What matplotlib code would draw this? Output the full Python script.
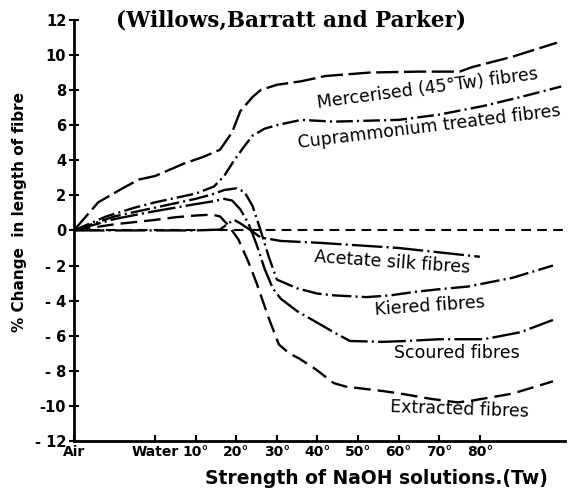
import matplotlib
matplotlib.use("Agg")
import matplotlib.pyplot as plt

plt.rcParams['lines.scale_dashes'] = False

# x in degrees Twaddell, Water = 0, Air drawn at -20
merc_x = [-20, -14, -8, -4, 0, 7, 12, 16, 19, 21, 24, 26, 30, 36, 42, 53, 65, 75, 78, 88, 99]
merc_y = [0, 1.6, 2.4, 2.9, 3.1, 3.8, 4.2, 4.6, 5.6, 6.8, 7.6, 8.0, 8.3, 8.5, 8.8, 9.0, 9.05, 9.05, 9.3, 9.9, 10.7]

cupra_x = [-20, -12, -5, 0, 5, 10, 14.5, 17, 19.5, 22, 24, 27, 30, 36, 44, 60, 70, 81, 90, 100]
cupra_y = [0, 0.8, 1.3, 1.6, 1.85, 2.1, 2.5, 3.1, 4.0, 4.8, 5.4, 5.8, 6.0, 6.3, 6.2, 6.3, 6.6, 7.1, 7.6, 8.2]

acet_x = [-20, 0, 10, 16, 18, 19.5, 21, 23, 26, 31, 40, 50, 60, 70, 80]
acet_y = [0, 0, 0, 0.05, 0.4, 0.6, 0.4, 0.1, -0.4, -0.6, -0.7, -0.85, -1.0, -1.25, -1.5]

kier_x = [-20, -10, 0, 5, 10, 14, 17, 20, 22, 24, 26, 28, 30, 35, 40, 44, 52, 58, 64, 70, 77, 88, 98]
kier_y = [0, 0.8, 1.3, 1.55, 1.8, 2.05, 2.3, 2.4, 2.2, 1.4, 0.0, -1.5, -2.8, -3.3, -3.6, -3.7, -3.8, -3.7, -3.5, -3.35, -3.2, -2.7, -2.0]

scour_x = [-20, -10, 0, 5, 10, 14, 17, 19, 21, 23, 25, 27, 29, 31, 35, 39.5, 44, 48, 56, 62, 70, 81, 90, 98]
scour_y = [0, 0.65, 1.1, 1.3, 1.5, 1.65, 1.8, 1.7, 1.2, 0.4, -0.8, -2.2, -3.3, -3.9, -4.6, -5.2, -5.8, -6.3, -6.35, -6.3, -6.2, -6.2, -5.8, -5.1]

extr_x = [-20, -10, 0, 5, 10, 14, 16, 18, 20.5, 23, 25, 28, 30.5, 33, 35.5, 39.5, 44, 47, 56, 60.5, 68, 74.5, 78, 88, 98]
extr_y = [0, 0.35, 0.6, 0.75, 0.85, 0.9, 0.8, 0.3, -0.5, -1.8, -3.0, -5.0, -6.5, -7.0, -7.3, -7.9, -8.7, -8.9, -9.15, -9.3, -9.6, -9.8, -9.7, -9.3, -8.6]

tick_pos = [-20, 0, 10, 20, 30, 40, 50, 60, 70, 80]
tick_lab = ['Air', 'Water', '10°', '20°', '30°', '40°', '50°', '60°', '70°', '80°']
ytick_pos = [12, 10, 8, 6, 4, 2, 0, -2, -4, -6, -8, -10, -12]
ytick_lab = ['12', '10', '8', '6', '4', '2', '0', '- 2', '- 4', '- 6', '- 8', '-10', '- 12']

fig = plt.figure(figsize=(5.68, 4.88), dpi=100)
ax = fig.add_axes([0.130, 0.0963, 0.865, 0.863])

lw = 1.7
ax.plot([-20, 101], [0, 0], color='black', lw=1.5, dashes=(7, 4.5))
ax.plot(merc_x, merc_y, color='black', lw=lw, dashes=(16, 4))
ax.plot(cupra_x, cupra_y, color='black', lw=lw, dashes=(12, 3, 1.5, 3))
ax.plot(acet_x, acet_y, color='black', lw=lw, dashes=(22, 3, 1.5, 3))
ax.plot(kier_x, kier_y, color='black', lw=lw, dashes=(14, 3, 1.5, 3))
ax.plot(scour_x, scour_y, color='black', lw=lw, dashes=(20, 3, 1.5, 3))
ax.plot(extr_x, extr_y, color='black', lw=lw, dashes=(12, 5))

ax.set_xlim(-20, 101)
ax.set_ylim(-12, 12)
for s in ['top', 'right']:
    ax.spines[s].set_visible(False)
for s in ['left', 'bottom']:
    ax.spines[s].set_linewidth(2)

ax.set_xticks(tick_pos)
ax.set_xticklabels(tick_lab, fontsize=10, fontweight='bold', family='DejaVu Sans')
ax.set_yticks(ytick_pos)
ax.set_yticklabels(ytick_lab, fontsize=10.5, fontweight='bold', family='DejaVu Sans')
ax.tick_params(axis='x', direction='in', length=4, width=1.5, pad=3)
ax.tick_params(axis='y', direction='inout', length=7, width=1.5, pad=2)

lab = dict(fontsize=12.5, family='DejaVu Sans', ha='center', va='center')
ax.text(67, 8.1, 'Mercerised (45°Tw) fibres', rotation=7.5, **lab)
ax.text(67.5, 5.9, 'Cuprammonium treated fibres', rotation=7, **lab)
ax.text(58.3, -1.8, 'Acetate silk fibres', rotation=-4, **lab)
ax.text(67.7, -4.3, 'Kiered fibres', rotation=4, **lab)
ax.text(74.3, -7.0, 'Scoured fibres', rotation=0, **lab)
ax.text(75, -10.2, 'Extracted fibres', rotation=-2, **lab)

fig.text(291 / 568, 1 - 20 / 488, '(Willows,Barratt and Parker)', fontsize=15.5,
         fontweight='bold', family='DejaVu Serif', ha='center', va='center')
fig.text(376 / 568, 1 - 478 / 488, 'Strength of NaOH solutions.(Tw)', fontsize=13.5,
         fontweight='bold', family='DejaVu Sans', ha='center', va='center')
fig.text(20 / 568, 1 - 212 / 488, '% Change  in length of fibre', fontsize=11,
         fontweight='bold', family='DejaVu Sans', ha='center', va='center', rotation=90)

fig.savefig('out.png', dpi=100)
